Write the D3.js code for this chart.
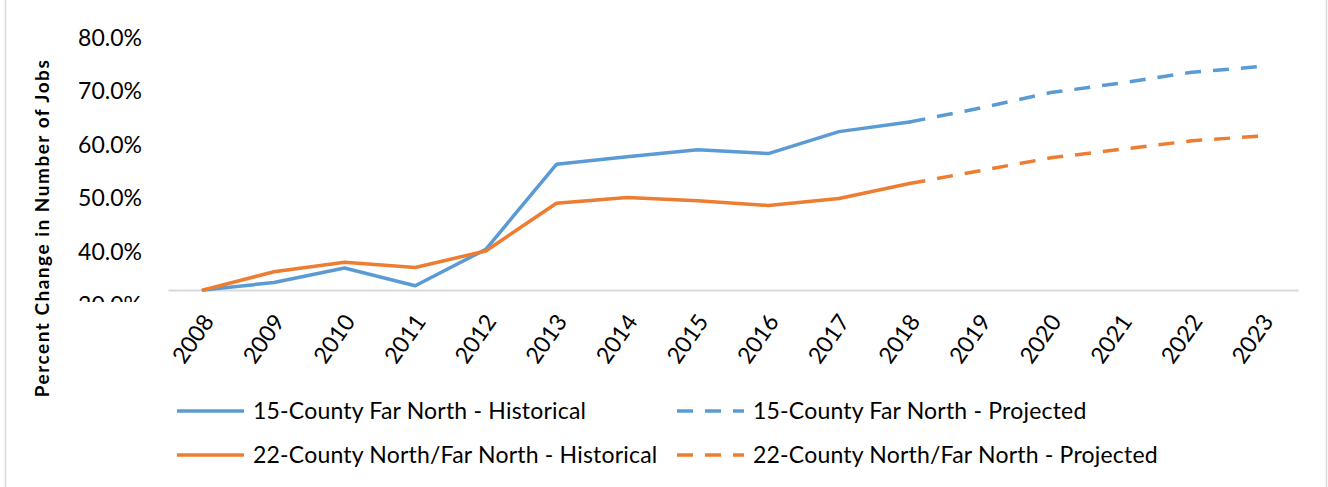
<!DOCTYPE html>
<html>
<head>
<meta charset="utf-8">
<script src="https://cdn.jsdelivr.net/npm/d3@7"></script>
<style>
  html, body { margin: 0; padding: 0; background: #fff; }
  svg { display: block; }
  text { font-family: Lato, "Open Sans", sans-serif; fill: #000; }
</style>
</head>
<body>
<svg id="chart" width="1328" height="487"></svg>
<script>
// ---- data ----
const years = ["2008","2009","2010","2011","2012","2013","2014","2015","2016","2017","2018","2019","2020","2021","2022","2023"];
const histYears = ["2008","2009","2010","2011","2012","2013","2014","2015","2016","2017","2018"];
const projYears = ["2018","2019","2020","2021","2022","2023"];
const farNorthHist = [32.9, 34.3, 37.0, 33.7, 40.5, 56.4, 57.8, 59.1, 58.4, 62.5, 64.3];
const farNorthProj = [64.3, 66.9, 69.8, 71.6, 73.6, 74.7];
const northHist = [32.9, 36.3, 38.1, 37.1, 40.2, 49.1, 50.2, 49.6, 48.7, 50.0, 52.8];
const northProj = [52.8, 55.2, 57.6, 59.2, 60.8, 61.7];
const yTicks = [30, 40, 50, 60, 70, 80];
const seriesNames = [
  "15-County Far North - Historical",
  "15-County Far North - Projected",
  "22-County North/Far North - Historical",
  "22-County North/Far North - Projected"
];
const yTitle = "Percent Change in Number of Jobs";

// ---- styles ----
const BLUE = "#5B9BD5", ORANGE = "#ED7D31";
const DASH = "16,12";
const FS = 23;

const svg = d3.select("#chart");

// chart border
svg.append("line").attr("x1", 5.5).attr("x2", 5.5).attr("y1", 0).attr("y2", 487)
  .attr("stroke", "#d9d9d9").attr("stroke-width", 1.5);
svg.append("line").attr("x1", 1326.5).attr("x2", 1326.5).attr("y1", 0).attr("y2", 487)
  .attr("stroke", "#d9d9d9").attr("stroke-width", 1.5);

const x = d3.scaleBand().domain(years).range([168, 1298]).padding(0);
const xc = d => x(d) + x.bandwidth() / 2;
const y = d3.scaleLinear().domain([30, 80]).range([305.5, 38]);

// y tick labels (clipped like the reference)
svg.append("defs").append("clipPath").attr("id", "ylabclip")
  .attr("clipPathUnits", "userSpaceOnUse")
  .append("rect").attr("x", -160).attr("y", 0).attr("width", 170).attr("height", 302);

const yAxis = d3.axisLeft(y).tickValues(yTicks).tickFormat(d => d3.format(".1f")(d) + "%").tickSize(0).tickPadding(0);
const yg = svg.append("g").attr("transform", "translate(142,0)").attr("clip-path", "url(#ylabclip)").call(yAxis);
yg.select(".domain").remove();
yg.selectAll("text").attr("font-size", FS).attr("font-family", "Lato, sans-serif").attr("fill", "#000");

// baseline (category axis)
const allVals = farNorthHist.concat(farNorthProj, northHist, northProj);
const baseY = y(d3.min(allVals));
const xAxis = d3.axisBottom(x).tickSize(0).tickPadding(0);
const xg = svg.append("g").attr("transform", `translate(0,${baseY})`).call(xAxis);
xg.select(".domain").attr("stroke", "#d9d9d9").attr("stroke-width", 2);
xg.selectAll(".tick text")
  .attr("font-size", FS).attr("font-family", "Lato, sans-serif").attr("fill", "#000")
  .attr("text-anchor", "end")
  .attr("dy", "0.35em")
  .attr("transform", "translate(5,27) rotate(-55)");

// y title
svg.append("text")
  .attr("transform", `translate(49,${(59 + 397) / 2}) rotate(-90)`)
  .attr("text-anchor", "middle")
  .attr("font-size", 19).attr("font-weight", "bold")
  .attr("letter-spacing", 1.5)
  .text(yTitle);

// lines
const line = d3.line().x(d => xc(d[0])).y(d => y(d[1]));
function draw(ys, vals, color, dashed) {
  svg.append("path")
    .datum(ys.map((yr, i) => [yr, vals[i]]))
    .attr("d", line)
    .attr("fill", "none")
    .attr("stroke", color)
    .attr("stroke-width", 3.5)
    .attr("stroke-linejoin", "round")
    .attr("stroke-linecap", dashed ? "butt" : "round")
    .attr("stroke-dasharray", dashed ? DASH : null);
}
draw(histYears, farNorthHist, BLUE, false);
draw(histYears, northHist, ORANGE, false);
draw(projYears, farNorthProj, BLUE, true);
draw(projYears, northProj, ORANGE, true);

// legend
const legendItems = [
  { name: seriesNames[0], color: BLUE, dashed: false, col: 0, row: 0 },
  { name: seriesNames[1], color: BLUE, dashed: true, col: 1, row: 0 },
  { name: seriesNames[2], color: ORANGE, dashed: false, col: 0, row: 1 },
  { name: seriesNames[3], color: ORANGE, dashed: true, col: 1, row: 1 }
];
const colX = [177, 677];
const rowY = [411, 455];
const lg = svg.append("g");
legendItems.forEach(it => {
  const gx = colX[it.col], gy = rowY[it.row];
  lg.append("line")
    .attr("x1", gx).attr("x2", gx + 67).attr("y1", gy).attr("y2", gy)
    .attr("stroke", it.color).attr("stroke-width", 3.5)
    .attr("stroke-dasharray", it.dashed ? DASH : null);
  lg.append("text")
    .attr("x", gx + 76).attr("y", gy).attr("dy", "0.35em")
    .attr("font-size", FS)
    .attr("letter-spacing", 0.2)
    .text(it.name);
});
</script>
</body>
</html>
